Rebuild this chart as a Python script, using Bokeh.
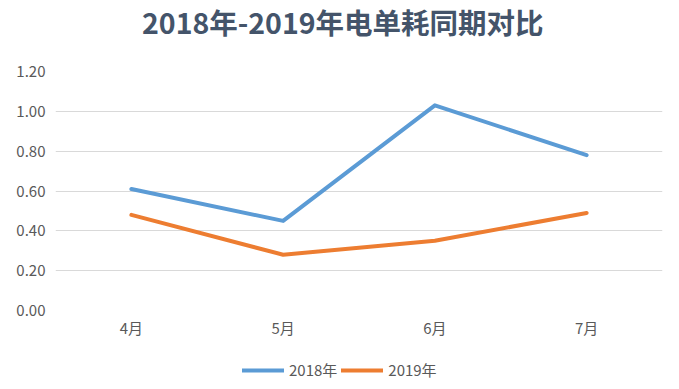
from bokeh.plotting import figure
from bokeh.layouts import column
from bokeh.models import ColumnDataSource, Legend, LegendItem, FixedTicker, NumeralTickFormatter, Range1d, Div
from bokeh.embed import file_html
from bokeh.resources import INLINE

months = ["4月", "5月", "6月", "7月"]
series_names = ["2018年", "2019年"]
v2018 = [0.61, 0.45, 1.03, 0.78]
v2019 = [0.48, 0.28, 0.35, 0.49]
y_ticks = [0.0, 0.2, 0.4, 0.6, 0.8, 1.0, 1.2]
title_text = "2018年-2019年电单耗同期对比"

FONT = "Noto Sans CJK SC"
COLORS = ["#5B9BD5", "#ED7D31"]
TXT = "#595959"

title_div = Div(
    text=('<div style="font-family:\'Noto Sans CJK SC\';font-weight:bold;font-size:28.5px;'
          'color:#44546A;line-height:44px;height:44px;white-space:nowrap;padding-left:142px;">'
          + title_text + '</div>'),
    width=663, height=44, margin=0)

p = figure(frame_width=607, frame_height=239, x_range=months, y_range=Range1d(0, 1.2),
           output_backend="svg", toolbar_location=None,
           min_border_left=55, min_border_right=1, min_border_top=27, min_border_bottom=48)

src = ColumnDataSource(dict(m=months, a=v2018, b=v2019))
p.line("m", "a", source=src, line_color=COLORS[0], line_width=4, line_cap="round", line_join="round")
p.line("m", "b", source=src, line_color=COLORS[1], line_width=4, line_cap="round", line_join="round")

p.outline_line_color = None
p.xgrid.grid_line_color = None
p.ygrid.grid_line_color = "#D9D9D9"
p.ygrid.grid_line_width = 1

p.yaxis.ticker = FixedTicker(ticks=y_ticks)
p.yaxis.formatter = NumeralTickFormatter(format="0.00")
for ax in (p.xaxis, p.yaxis):
    ax.axis_line_color = None
    ax.major_tick_line_color = None
    ax.minor_tick_line_color = None
    ax.major_tick_out = 0
    ax.major_tick_in = 0
    ax.minor_tick_out = 0
    ax.minor_tick_in = 0
    ax.major_label_text_font = FONT
    ax.major_label_text_font_size = "15px"
    ax.major_label_text_color = TXT
p.yaxis.major_label_standoff = 10
p.xaxis.major_label_standoff = 6

# legend strip below the chart
lg = figure(width=663, height=23, x_range=months, y_range=Range1d(0, 1.2),
            x_axis_location=None, y_axis_location=None,
            output_backend="svg", toolbar_location=None,
            min_border_left=0, min_border_right=0, min_border_top=0, min_border_bottom=0)
lg.grid.visible = False
lg.outline_line_color = None
l1 = lg.line("m", "a", source=src, line_color=COLORS[0], line_width=4, line_cap="round", visible=False)
l2 = lg.line("m", "b", source=src, line_color=COLORS[1], line_width=4, line_cap="round", visible=False)
legend = Legend(items=[LegendItem(label=series_names[0], renderers=[l1]),
                       LegendItem(label=series_names[1], renderers=[l2])],
                orientation="horizontal", location=(187, 1),
                padding=0, margin=0, spacing=4, label_standoff=5,
                glyph_width=42, glyph_height=16, label_height=16,
                label_text_font=FONT, label_text_font_size="15px", label_text_color=TXT,
                border_line_color=None, background_fill_alpha=0,
                inactive_fill_alpha=0)
lg.add_layout(legend, "center")

layout = column(title_div, p, lg, spacing=0)
open("out.html", "w").write(file_html(layout, INLINE))
